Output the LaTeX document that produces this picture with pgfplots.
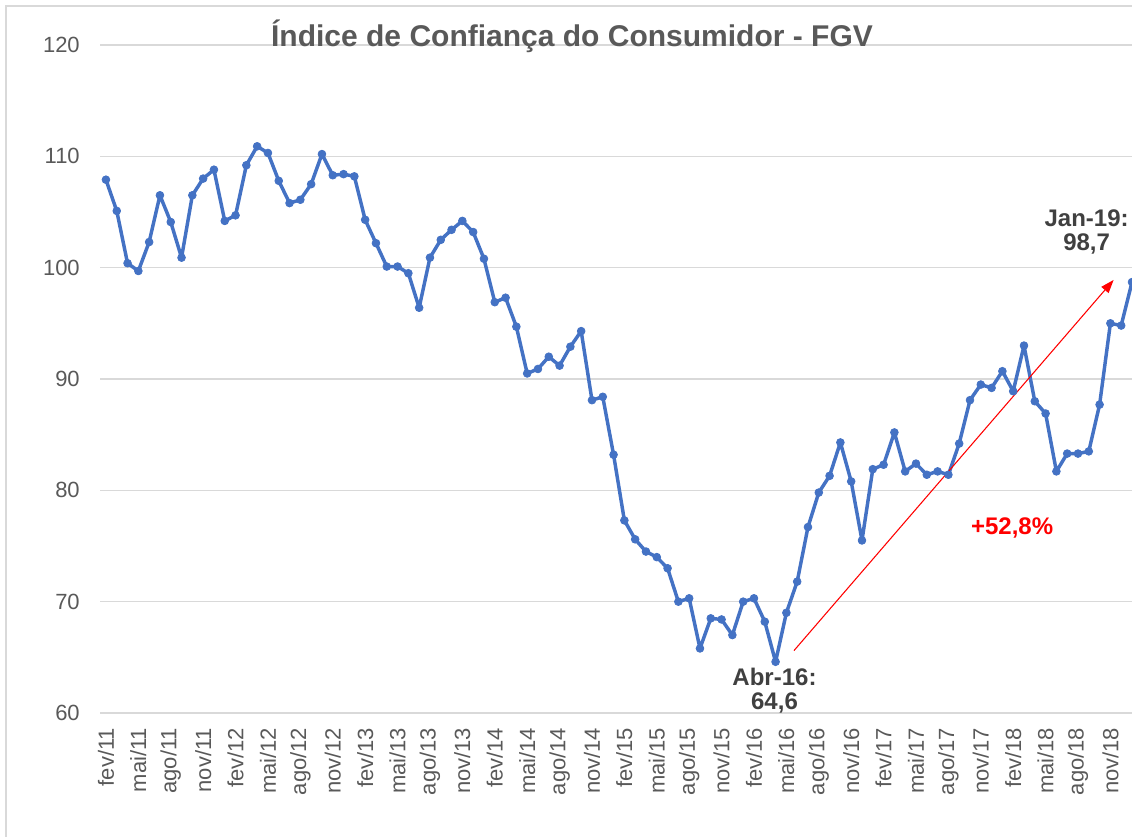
\documentclass[border=0pt]{standalone}
\usepackage{fontspec}
\setmainfont{Liberation Sans}
\usepackage{pgfplots}
\pgfplotsset{compat=1.18}
\usepackage{pgfplotstable}
\usetikzlibrary{arrows.meta}
\definecolor{lineblue}{HTML}{4472C4}
\definecolor{gridgray}{HTML}{D9D9D9}
\definecolor{ticktext}{HTML}{595959}
\definecolor{annot}{HTML}{404040}

\pgfplotstableread{
k v
0 107.9
1 105.1
2 100.4
3 99.7
4 102.3
5 106.5
6 104.1
7 100.9
8 106.5
9 108.0
10 108.8
11 104.2
12 104.7
13 109.2
14 110.9
15 110.3
16 107.8
17 105.8
18 106.1
19 107.5
20 110.2
21 108.3
22 108.4
23 108.2
24 104.3
25 102.2
26 100.1
27 100.1
28 99.5
29 96.4
30 100.9
31 102.5
32 103.4
33 104.2
34 103.2
35 100.8
36 96.9
37 97.3
38 94.7
39 90.5
40 90.9
41 92.0
42 91.2
43 92.9
44 94.3
45 88.1
46 88.4
47 83.2
48 77.3
49 75.6
50 74.5
51 74.0
52 73.0
53 70.0
54 70.3
55 65.8
56 68.5
57 68.4
58 67.0
59 70.0
60 70.3
61 68.2
62 64.6
63 69.0
64 71.8
65 76.7
66 79.8
67 81.3
68 84.3
69 80.8
70 75.5
71 81.9
72 82.3
73 85.2
74 81.7
75 82.4
76 81.4
77 81.7
78 81.4
79 84.2
80 88.1
81 89.5
82 89.2
83 90.7
84 88.9
85 93.0
86 88.0
87 86.9
88 81.7
89 83.3
90 83.3
91 83.5
92 87.7
93 95.0
94 94.8
95 98.7
}\icc

\begin{document}
\begin{tikzpicture}
\useasboundingbox (-75pt,-93pt) rectangle (774pt,534.75pt);
\draw[gridgray, line width=0.8pt] (-70.5pt,-200pt) -- (-70.5pt,530.25pt) -- (900pt,530.25pt);
\begin{axis}[
  at={(0,0)}, anchor=south west,
  scale only axis,
  width=774pt, height=501pt,
  xmin=-0.55, xmax=95,
  ymin=60, ymax=120,
  ytick={60,70,...,120},
  xtick={0,3,...,93},
  xticklabels={fev/11,mai/11,ago/11,nov/11,fev/12,mai/12,ago/12,nov/12,fev/13,mai/13,ago/13,nov/13,fev/14,mai/14,ago/14,nov/14,fev/15,mai/15,ago/15,nov/15,fev/16,mai/16,ago/16,nov/16,fev/17,mai/17,ago/17,nov/17,fev/18,mai/18,ago/18,nov/18},
  axis line style={draw=none},
  tick style={draw=none},
  major tick length=0pt,
  ymajorgrids,
  grid style={gridgray, line width=1pt},
  /pgf/number format/assume math mode=true,
  yticklabel style={font=\fontsize{16.5}{19.8}\selectfont, text=ticktext, anchor=east, inner sep=0pt, xshift=-15pt},
  xticklabel style={font=\fontsize{16.5}{19.8}\selectfont, text=ticktext, inner sep=0pt, yshift=-11pt, rotate=90, anchor=east},
  clip=false,
]
\addplot[color=lineblue, line width=2.6pt, line join=round, mark=*, mark size=2.9pt, mark options={fill=lineblue, draw=lineblue, line width=0.6pt}] table[x=k, y=v] {\icc};

\draw[red, line width=0.8pt, -{Triangle[length=10pt,width=7pt]}] (axis cs:63.7,65.6) -- (axis cs:93.3,98.9);

\node[align=center, font=\fontsize{18}{18.5}\selectfont\bfseries, text=annot] at (axis cs:61.9,62.0) {Abr-16:\\64,6};
\node[align=center, font=\fontsize{18}{18.5}\selectfont\bfseries, text=annot] at (axis cs:90.8,103.2) {Jan-19:\\98,7};
\node[font=\fontsize{18}{21}\selectfont\bfseries, text=red] at (axis cs:83.9,76.6) {+52,8\%};
\end{axis}
\node[anchor=base, font=\fontsize{22.5}{26}\selectfont\bfseries, text=ticktext] at (354pt,499.5pt) {Índice de Confiança do Consumidor - FGV};
\end{tikzpicture}
\end{document}
